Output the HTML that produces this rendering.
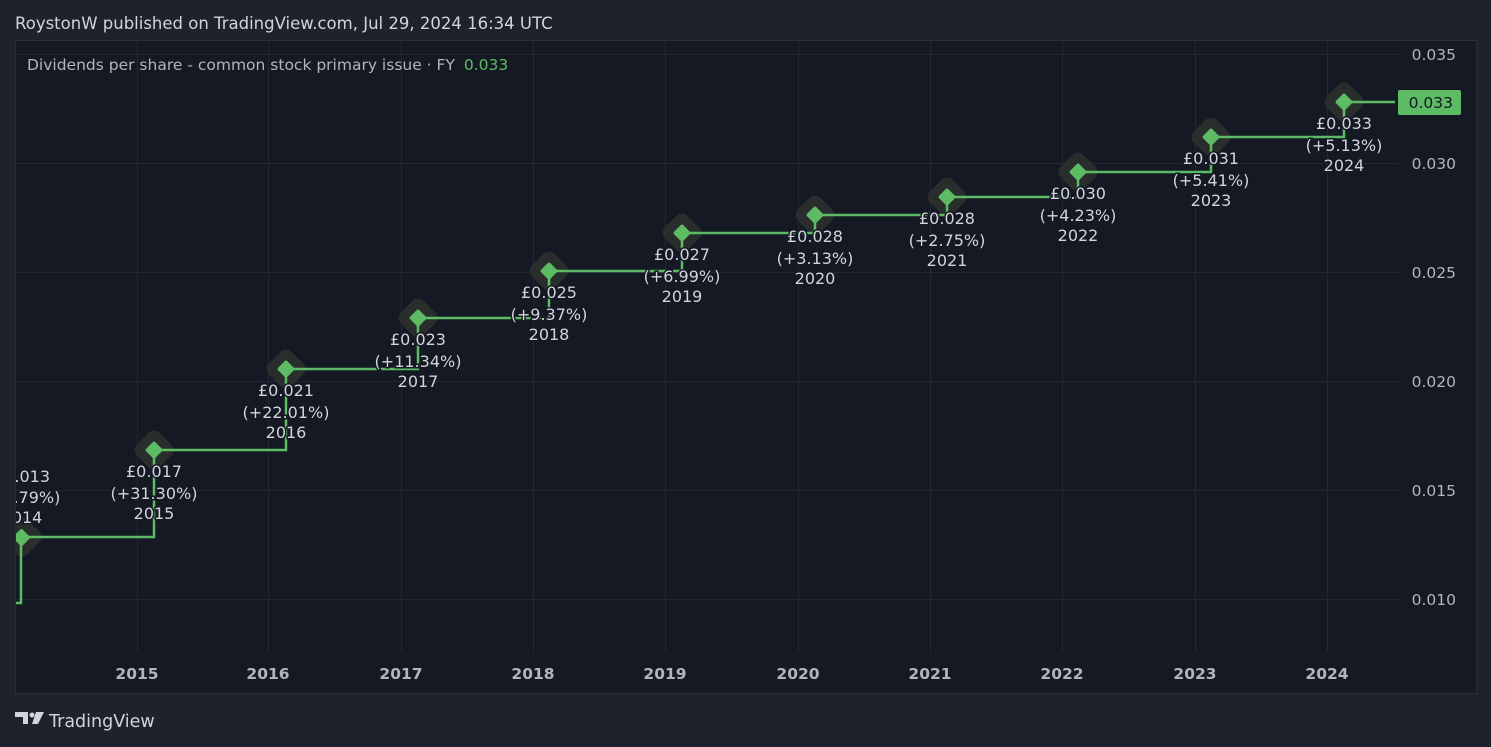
<!DOCTYPE html>
<html><head><meta charset="utf-8"><style>
body{margin:0;background:#1e222d;width:1491px;height:747px;overflow:hidden;font-family:"DejaVu Sans","Liberation Sans",sans-serif}
</style></head><body>
<svg width="1491" height="747" xmlns="http://www.w3.org/2000/svg" style="position:absolute;left:0;top:0">
<defs><clipPath id="c"><rect x="16" y="41" width="1382" height="609"/></clipPath></defs>
<rect x="0" y="0" width="1491" height="747" fill="#1e222d"/>
<text x="15" y="29" fill="#d1d4dc" font-size="16.5">RoystonW published on TradingView.com, Jul 29, 2024 16:34 UTC</text>
<rect x="15.5" y="40.5" width="1461" height="653" fill="#151924" stroke="#2a2e39"/>
<g stroke="#232734" stroke-width="1">
<line x1="16" x2="1398" y1="54.5" y2="54.5"/><line x1="16" x2="1398" y1="163.5" y2="163.5"/><line x1="16" x2="1398" y1="272.5" y2="272.5"/><line x1="16" x2="1398" y1="381.5" y2="381.5"/><line x1="16" x2="1398" y1="490.5" y2="490.5"/><line x1="16" x2="1398" y1="599.5" y2="599.5"/>
<line x1="137.5" x2="137.5" y1="41" y2="652"/><line x1="268.5" x2="268.5" y1="41" y2="652"/><line x1="401.5" x2="401.5" y1="41" y2="652"/><line x1="533.5" x2="533.5" y1="41" y2="652"/><line x1="665.5" x2="665.5" y1="41" y2="652"/><line x1="798.5" x2="798.5" y1="41" y2="652"/><line x1="930.5" x2="930.5" y1="41" y2="652"/><line x1="1062.5" x2="1062.5" y1="41" y2="652"/><line x1="1195.5" x2="1195.5" y1="41" y2="652"/><line x1="1327.5" x2="1327.5" y1="41" y2="652"/>
</g>
<g clip-path="url(#c)">
<g fill="#2b302f" opacity="0.95">
<rect x="6" y="521" width="32" height="32" rx="8" transform="rotate(45 22 537)"/>
<rect x="138" y="434" width="32" height="32" rx="8" transform="rotate(45 154 450)"/>
<rect x="270" y="353" width="32" height="32" rx="8" transform="rotate(45 286 369)"/>
<rect x="402" y="302" width="32" height="32" rx="8" transform="rotate(45 418 318)"/>
<rect x="533" y="255" width="32" height="32" rx="8" transform="rotate(45 549 271)"/>
<rect x="666" y="217" width="32" height="32" rx="8" transform="rotate(45 682 233)"/>
<rect x="799" y="199" width="32" height="32" rx="8" transform="rotate(45 815 215)"/>
<rect x="931" y="181" width="32" height="32" rx="8" transform="rotate(45 947 197)"/>
<rect x="1062" y="156" width="32" height="32" rx="8" transform="rotate(45 1078 172)"/>
<rect x="1195" y="121" width="32" height="32" rx="8" transform="rotate(45 1211 137)"/>
<rect x="1328" y="86" width="32" height="32" rx="8" transform="rotate(45 1344 102)"/>
</g>
<polyline fill="none" stroke="#5dbb63" stroke-width="2.5" points="15,603 21,603 21,537 154,537 154,450 286,450 286,369 418,369 418,318 549,318 549,271 682,271 682,233 815,233 815,215 947,215 947,197 1078,197 1078,172 1211,172 1211,137 1344,137 1344,102 1395,102"/>
<g fill="#5dbb63">
<rect x="15" y="531" width="13" height="13" rx="2" transform="rotate(45 21.5 537.5)"/>
<rect x="147.5" y="443.5" width="13" height="13" rx="2" transform="rotate(45 154 450)"/>
<rect x="279.5" y="362.5" width="13" height="13" rx="2" transform="rotate(45 286 369)"/>
<rect x="411.5" y="311.5" width="13" height="13" rx="2" transform="rotate(45 418 318)"/>
<rect x="542.5" y="264.5" width="13" height="13" rx="2" transform="rotate(45 549 271)"/>
<rect x="675.5" y="226.5" width="13" height="13" rx="2" transform="rotate(45 682 233)"/>
<rect x="808.5" y="208.5" width="13" height="13" rx="2" transform="rotate(45 815 215)"/>
<rect x="940.5" y="190.5" width="13" height="13" rx="2" transform="rotate(45 947 197)"/>
<rect x="1071.5" y="165.5" width="13" height="13" rx="2" transform="rotate(45 1078 172)"/>
<rect x="1204.5" y="130.5" width="13" height="13" rx="2" transform="rotate(45 1211 137)"/>
<rect x="1337.5" y="95.5" width="13" height="13" rx="2" transform="rotate(45 1344 102)"/>
</g>
<g fill="#d1d4dc" font-size="16" text-anchor="middle" stroke="#151924" stroke-width="3" paint-order="stroke">
<text x="22" y="482">£0.013</text><text x="22" y="503">(+9.79%)</text><text x="22" y="523">2014</text>
<text x="154" y="477">£0.017</text><text x="154" y="499">(+31.30%)</text><text x="154" y="519">2015</text>
<text x="286" y="396">£0.021</text><text x="286" y="418">(+22.01%)</text><text x="286" y="438">2016</text>
<text x="418" y="345">£0.023</text><text x="418" y="367">(+11.34%)</text><text x="418" y="387">2017</text>
<text x="549" y="298">£0.025</text><text x="549" y="320">(+9.37%)</text><text x="549" y="340">2018</text>
<text x="682" y="260">£0.027</text><text x="682" y="282">(+6.99%)</text><text x="682" y="302">2019</text>
<text x="815" y="242">£0.028</text><text x="815" y="264">(+3.13%)</text><text x="815" y="284">2020</text>
<text x="947" y="224">£0.028</text><text x="947" y="246">(+2.75%)</text><text x="947" y="266">2021</text>
<text x="1078" y="199">£0.030</text><text x="1078" y="221">(+4.23%)</text><text x="1078" y="241">2022</text>
<text x="1211" y="164">£0.031</text><text x="1211" y="186">(+5.41%)</text><text x="1211" y="206">2023</text>
<text x="1344" y="129">£0.033</text><text x="1344" y="151">(+5.13%)</text><text x="1344" y="171">2024</text>
</g>
</g>
<text x="27" y="70" fill="#b2b5be" font-size="15.5">Dividends per share - common stock primary issue · FY <tspan fill="#5dbb63" dx="4">0.033</tspan></text>
<g fill="#b2b5be" font-size="15.5" text-anchor="end">
<text x="1456" y="60">0.035</text><text x="1456" y="169">0.030</text><text x="1456" y="278">0.025</text><text x="1456" y="387">0.020</text><text x="1456" y="496">0.015</text><text x="1456" y="605">0.010</text>
</g>
<rect x="1398" y="90" width="63" height="25" rx="2" fill="#5dbb63"/>
<text x="1453" y="108" fill="#131722" font-size="15.5" text-anchor="end">0.033</text>
<g fill="#b2b5be" font-size="15.5" font-weight="bold" text-anchor="middle">
<text x="137" y="679">2015</text><text x="268" y="679">2016</text><text x="401" y="679">2017</text><text x="533" y="679">2018</text><text x="665" y="679">2019</text><text x="798" y="679">2020</text><text x="930" y="679">2021</text><text x="1062" y="679">2022</text><text x="1195" y="679">2023</text><text x="1327" y="679">2024</text>
</g>
<g fill="#d1d4dc">
<path d="M15 712h13v12h-5v-7h-8z"/><circle cx="32" cy="715" r="2.5"/><path d="M36 712h8l-6 12h-6z"/>
</g>
<text x="49" y="727" fill="#d1d4dc" font-size="17.5">TradingView</text>
</svg>
</body></html>
